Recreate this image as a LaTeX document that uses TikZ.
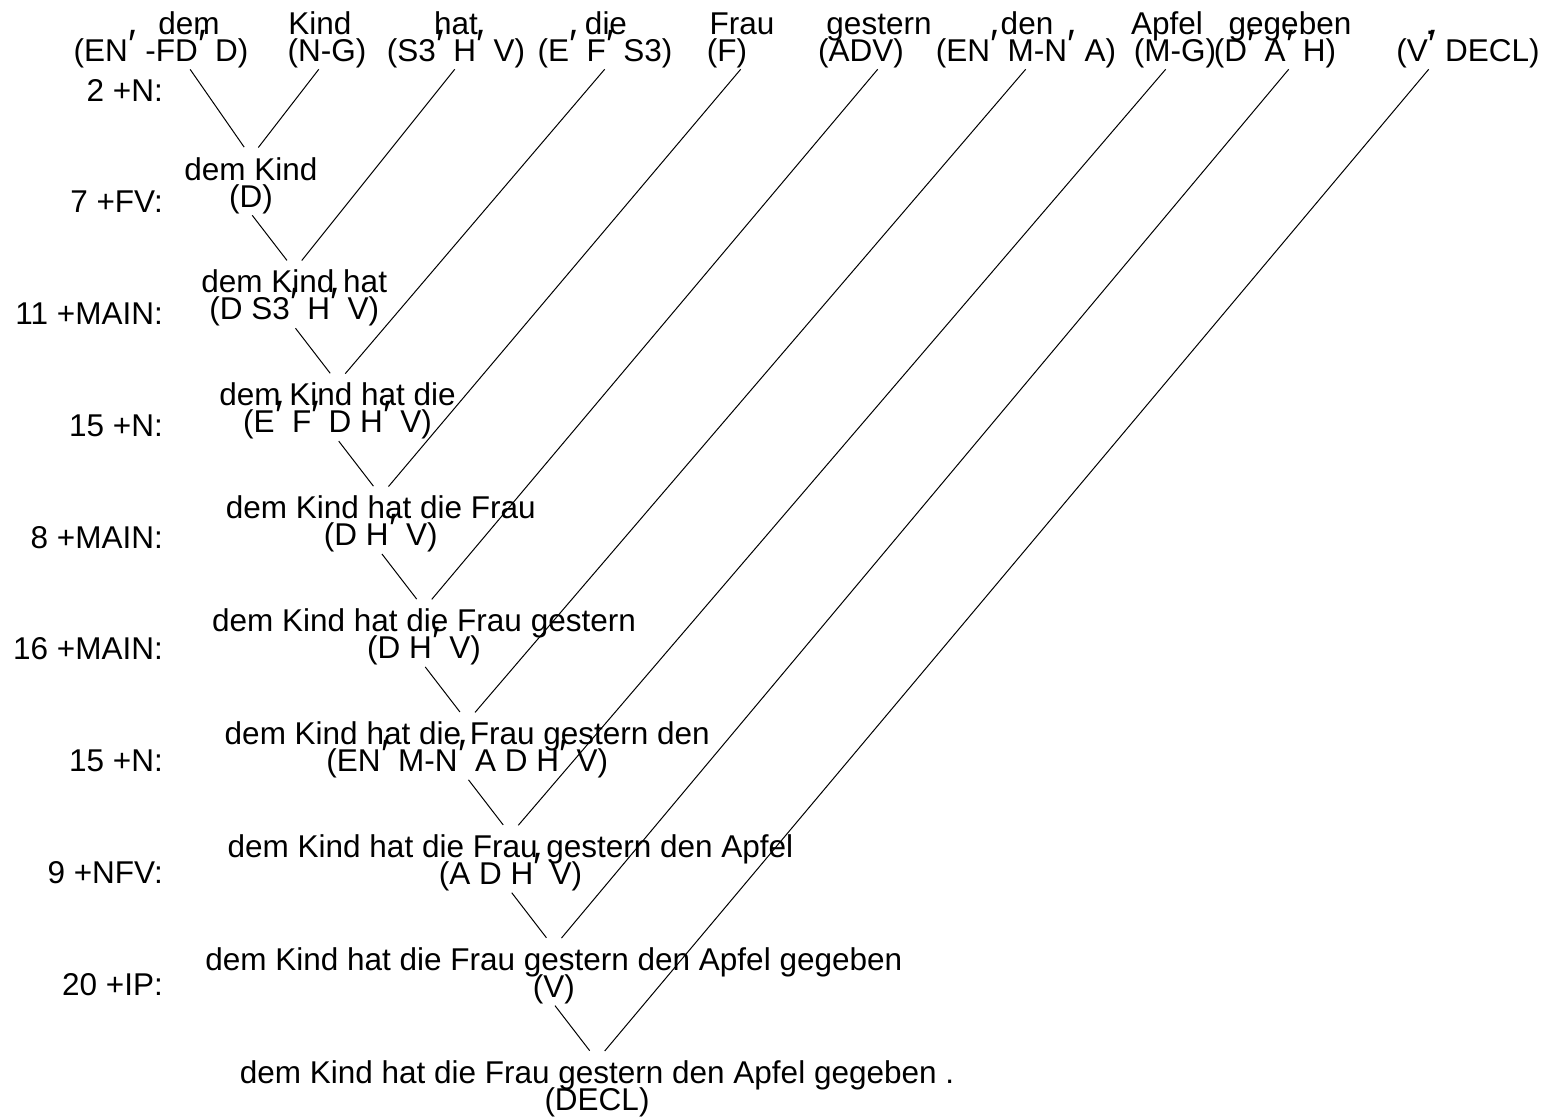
\documentclass[tikz,border=0pt]{standalone}
\usepackage{fontspec}
\usepackage{graphicx}
\setmainfont{Liberation Sans}
\newcommand\diagfont{\fontsize{31.5pt}{31.5pt}\selectfont}
\newcommand\pmark{\kern0.5pt\raisebox{3pt}{\scalebox{1.3}{′}}\kern0.5pt}
\begin{document}
\begin{tikzpicture}[x=1pt,y=-1pt,
  every node/.style={inner sep=0pt, anchor=base, font=\diagfont},
  lbl/.style={anchor=base east},
  edge/.style={draw=black, line width=1pt, shorten >=12pt, shorten <=2pt}]
\useasboundingbox (0,0) rectangle (1546,1119);
% leaves
\node (w1) at (189,34) {dem};      \node (c1) at (161,61) {(EN\pmark{} -FD\pmark{} D)};
\node (w2) at (320,34) {Kind};     \node (c2) at (327,61) {(N-G)};
\node (w3) at (456,34) {hat};      \node (c3) at (456,61) {(S3\pmark{} H\pmark{} V)};
\node (w4) at (606,34) {die};      \node (c4) at (605,61) {(E\pmark{} F\pmark{} S3)};
\node (w5) at (742,34) {Frau};     \node (c5) at (727,61) {(F)};
\node (w6) at (879,34) {gestern};  \node (c6) at (861,61) {(ADV)};
\node (w7) at (1027,34) {den};     \node (c7) at (1026,61) {(EN\pmark{} M-N\pmark{} A)};
\node (w8) at (1167,34) {Apfel};   \node (c8) at (1175,61) {(M-G)};
\node (w9) at (1290,34) {gegeben}; \node (c9) at (1275,61) {(D\pmark{} A\pmark{} H)};
\node (w10) at (1430,34) {.};      \node (c10) at (1468,61) {(V\pmark{} DECL)};
% step labels
\node[lbl] (l1) at (163,101.00) {2 +N:};
\node[lbl] (l2) at (163,212.75) {7 +FV:};
\node[lbl] (l3) at (163,324.50) {11 +MAIN:};
\node[lbl] (l4) at (163,436.25) {15 +N:};
\node[lbl] (l5) at (163,548.00) {8 +MAIN:};
\node[lbl] (l6) at (163,659.75) {16 +MAIN:};
\node[lbl] (l7) at (163,771.50) {15 +N:};
\node[lbl] (l8) at (163,883.25) {9 +NFV:};
\node[lbl] (l9) at (163,995.00) {20 +IP:};
% internal nodes
\node (m1) at (251.00,180.0) {dem Kind};
\node (d1) at (251.00,207.0) {(D)};
\node (m2) at (294.25,292.9) {dem Kind hat};
\node (d2) at (294.25,319.9) {(D S3\pmark{} H\pmark{} V)};
\node (m3) at (337.50,405.8) {dem Kind hat die};
\node (d3) at (337.50,432.8) {(E\pmark{} F\pmark{} D H\pmark{} V)};
\node (m4) at (380.75,518.7) {dem Kind hat die Frau};
\node (d4) at (380.75,545.7) {(D H\pmark{} V)};
\node (m5) at (424.00,631.6) {dem Kind hat die Frau gestern};
\node (d5) at (424.00,658.6) {(D H\pmark{} V)};
\node (m6) at (467.25,744.5) {dem Kind hat die Frau gestern den};
\node (d6) at (467.25,771.5) {(EN\pmark{} M-N\pmark{} A D H\pmark{} V)};
\node (m7) at (510.50,857.4) {dem Kind hat die Frau gestern den Apfel};
\node (d7) at (510.50,884.4) {(A D H\pmark{} V)};
\node (m8) at (553.75,970.3) {dem Kind hat die Frau gestern den Apfel gegeben};
\node (d8) at (553.75,997.3) {(V)};
\node (m9) at (597.00,1083.2) {dem Kind hat die Frau gestern den Apfel gegeben .};
\node (d9) at (597.00,1110.2) {(DECL)};
% edges
\draw[edge] (w1 |- c1.south) -- (m1.north);
\draw[edge] (w2 |- c2.south) -- (m1.north);
\draw[edge] (d1.south) -- (m2.north);
\draw[edge] (w3 |- c3.south) -- (m2.north);
\draw[edge] (d2.south) -- (m3.north);
\draw[edge] (w4 |- c4.south) -- (m3.north);
\draw[edge] (d3.south) -- (m4.north);
\draw[edge] (w5 |- c5.south) -- (m4.north);
\draw[edge] (d4.south) -- (m5.north);
\draw[edge] (w6 |- c6.south) -- (m5.north);
\draw[edge] (d5.south) -- (m6.north);
\draw[edge] (w7 |- c7.south) -- (m6.north);
\draw[edge] (d6.south) -- (m7.north);
\draw[edge] (w8 |- c8.south) -- (m7.north);
\draw[edge] (d7.south) -- (m8.north);
\draw[edge] (w9 |- c9.south) -- (m8.north);
\draw[edge] (d8.south) -- (m9.north);
\draw[edge] (w10 |- c10.south) -- (m9.north);
\end{tikzpicture}
\end{document}
